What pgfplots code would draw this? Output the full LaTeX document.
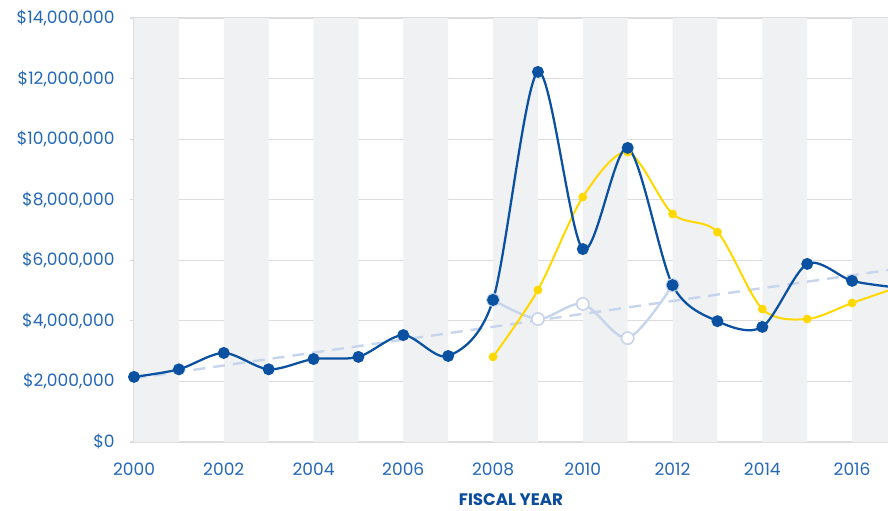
\documentclass[border=0pt]{standalone}
\usepackage{pgfplots}
\pgfplotsset{compat=1.18}
\usepackage{fontspec}
\setmainfont{Poppins}
\usetikzlibrary{calc}

\definecolor{darkblue}{HTML}{0A51A1}
\definecolor{gold}{HTML}{FFD800}
\definecolor{paleblue}{HTML}{C6D5EB}
\definecolor{band}{HTML}{F0F1F3}
\definecolor{gridgrey}{HTML}{DCDCDC}
\definecolor{ticktext}{HTML}{2468B6}
\definecolor{labeltext}{HTML}{0A4C9C}

\begin{document}
\begin{tikzpicture}
\begin{axis}[
    scale only axis,
    width=565.5pt,
    height=318pt,
    xmin=2000, xmax=2016.8,
    ymin=0, ymax=14000000,
    xtick={2000,2002,2004,2006,2008,2010,2012,2014,2016},
    ytick={0,2000000,4000000,6000000,8000000,10000000,12000000,14000000},
    scaled ticks=false,
    axis lines=left,
    axis line style={-, draw=gridgrey, line width=0.8pt},
    ymajorgrids,
    grid style={gridgrey, line width=0.8pt},
    tick align=outside,
    xtick style={draw=none},
    ytick style={draw=gridgrey, line width=0.8pt},
    major tick length=3pt,
    tick label style={font=\fontsize{12.8}{15}\selectfont, text=ticktext},
    x tick label style={/pgf/number format/1000 sep={}, /pgf/number format/assume math mode=true, yshift=-9pt},
    y tick label style={xshift=-8pt},
    yticklabel={\$\pgfmathprintnumber[fixed,1000 sep={,},assume math mode=true]{\tick}},
    xlabel={FISCAL YEAR},
    xlabel style={font=\fontsize{12.5}{14}\selectfont\bfseries, text=labeltext, yshift=-6.5pt},
    clip=true,
]

% alternating year bands
\addplot[ybar interval, fill=band, draw=none] coordinates {
(2000,14000000) (2001,0) (2002,14000000) (2003,0) (2004,14000000) (2005,0)
(2006,14000000) (2007,0) (2008,14000000) (2009,0) (2010,14000000) (2011,0)
(2012,14000000) (2013,0) (2014,14000000) (2015,0) (2016,14000000) (2017,0)
};

% trend
\addplot[paleblue, line width=1.8pt, dash pattern=on 9pt off 6pt] coordinates {
(2000,2100000) (2017,5720000)
};

% light series
\addplot[smooth, paleblue, line width=1.8pt, mark=*, mark size=4.6pt,
    mark options={solid, fill=white, draw=paleblue, line width=1.2pt}] coordinates {
(2008,4690000) (2009,4060000) (2010,4560000) (2011,3430000) (2012,5180000)
};

% yellow series
\addplot[smooth, gold, line width=1.5pt, mark=*, mark size=2.5pt,
    mark options={fill=gold, draw=gold}] coordinates {
(2008,2810000) (2009,5020000) (2010,8090000) (2011,9570000) (2012,7530000)
(2013,6930000) (2014,4390000) (2015,4060000) (2016,4590000) (2017,5100000)
};

% dark blue series
\addplot[smooth, darkblue, line width=1.7pt, mark=*, mark size=3.6pt,
    mark options={fill=darkblue, draw=darkblue}] coordinates {
(2000,2150000) (2001,2400000) (2002,2940000) (2003,2400000) (2004,2740000)
(2005,2810000) (2006,3530000) (2007,2840000) (2008,4690000) (2009,12220000)
(2010,6370000) (2011,9710000) (2012,5180000) (2013,3990000) (2014,3800000)
(2015,5880000) (2016,5320000) (2017,5100000)
};

\end{axis}
\pgfresetboundingbox
\path[use as bounding box] ($(current axis.south west)+(-100.5pt,-51pt)$) rectangle ($(current axis.north east)+(0,13.5pt)$);
\end{tikzpicture}
\end{document}
